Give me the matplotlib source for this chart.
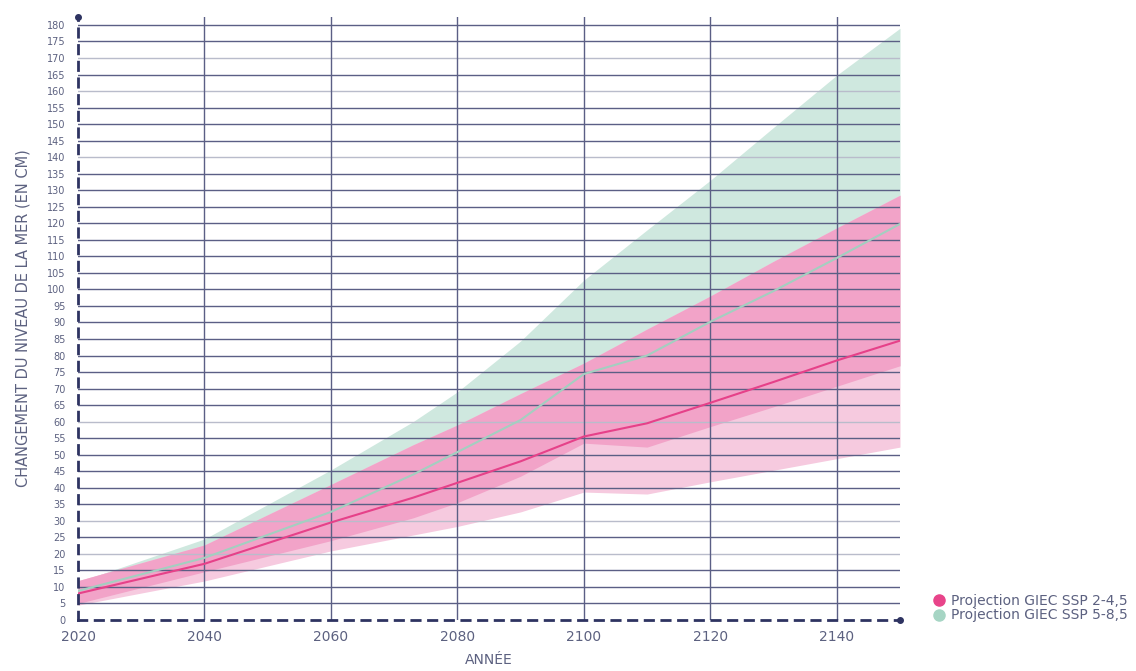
import matplotlib.pyplot as plt
from matplotlib.lines import Line2D

plt.rcParams['font.family'] = ['DejaVu Sans']

# années
years = [2020, 2040, 2060, 2073, 2080, 2090, 2100, 2110, 2120, 2130, 2140, 2150]

# SSP 2-4,5
ssp245_mid = [8, 17, 29.5, 37, 41.5, 48, 55.5, 59.5, 65.7, 72, 78.5, 84.5]
ssp245_high = [11.9, 22.7, 41, 53, 59, 68.5, 77.7, 88, 98, 108.5, 118.6, 128.5]
ssp245_low = [5, 14.6, 24, 30.9, 35.5, 43.5, 53.5, 52.3, 58.5, 64.5, 70.7, 76.9]
ssp245_min = [4.5, 11.8, 20.9, 25.7, 28.3, 32.7, 38.7, 38.1, 41.8, 45.3, 48.8, 52.3]

# SSP 5-8,5
ssp585_mid = [8.8, 18.8, 32.7, 44, 50.8, 60.5, 74.4, 80, 90.2, 99.5, 109.5, 119.8]
ssp585_high = [11.5, 24.5, 45.4, 60, 69, 84.4, 102.8, 118, 133, 149, 164.8, 179]
ssp585_low = [5, 14.6, 24, 30.9, 35.5, 43.5, 53.5, 52.3, 58.5, 64.5, 70.7, 76.9]

y_ticks = list(range(0, 185, 5))
x_ticks = [2020, 2040, 2060, 2080, 2100, 2120, 2140]
light_grid = [20, 30, 60, 140, 160, 170]

navy = '#2e3361'
txt = '#5c6180'

fig = plt.figure(figsize=(11.36, 6.71), dpi=100)
ax = fig.add_axes([78 / 1136, 1 - 620 / 671, 822 / 1136, 603 / 671])

ax.fill_between(years, ssp585_low, ssp585_high, color='#cfe8df', lw=0, zorder=1)
ax.fill_between(years, ssp245_min, ssp245_high, color='#f6cadf', lw=0, zorder=2)
ax.fill_between(years, ssp245_low, ssp245_high, color='#f2a3c8', lw=0, zorder=3)

for y in y_ticks[1:]:
    c = '#b9bccb' if y in light_grid else '#5b5f85'
    ax.axhline(y, color=c, lw=1.0, zorder=4)
for x in x_ticks[1:]:
    ax.axvline(x, color='#5b5f85', lw=1.0, zorder=4)

ax.plot(years, ssp585_mid, color='#a3cfc0', lw=1.5, zorder=5)
ax.plot(years, ssp245_mid, color='#e64189', lw=1.5, zorder=6)

ax.set_xlim(2020, 2150)
ax.set_ylim(0, 182.4)
ax.set_xticks(x_ticks)
ax.set_yticks(y_ticks)
ax.tick_params(axis='both', length=0, colors=txt)
ax.tick_params(axis='x', labelsize=10, pad=7)
ax.tick_params(axis='y', labelsize=7, pad=9)

for s in ['top', 'right']:
    ax.spines[s].set_visible(False)
for s in ['left', 'bottom']:
    ax.spines[s].set_color(navy)
    ax.spines[s].set_linewidth(2)
    ax.spines[s].set_linestyle((0, (3, 3)))
    ax.spines[s].set_zorder(7)
ax.plot([2020], [182.4], 'o', color=navy, ms=4, clip_on=False, zorder=8)
ax.plot([2150], [0], 'o', color=navy, ms=4, clip_on=False, zorder=8)

ax.set_xlabel('ANNÉE', color=txt, fontsize=10, labelpad=7)
ax.set_ylabel('CHANGEMENT DU NIVEAU DE LA MER (EN CM)', color=txt, fontsize=10.5, labelpad=12)

handles = [
    Line2D([], [], marker='o', ls='', color='#e8448a', ms=8, label='Projection GIEC SSP 2-4,5'),
    Line2D([], [], marker='o', ls='', color='#a6d5c4', ms=8, label='Projection GIEC SSP 5-8,5'),
]
fig.legend(handles=handles, loc='lower left', bbox_to_anchor=(920 / 1136, 1 - 628 / 671),
           frameon=False, fontsize=10, handletextpad=-0.2, labelspacing=0.05,
           labelcolor=txt, borderaxespad=0)

fig.savefig('out.png', dpi=100)
